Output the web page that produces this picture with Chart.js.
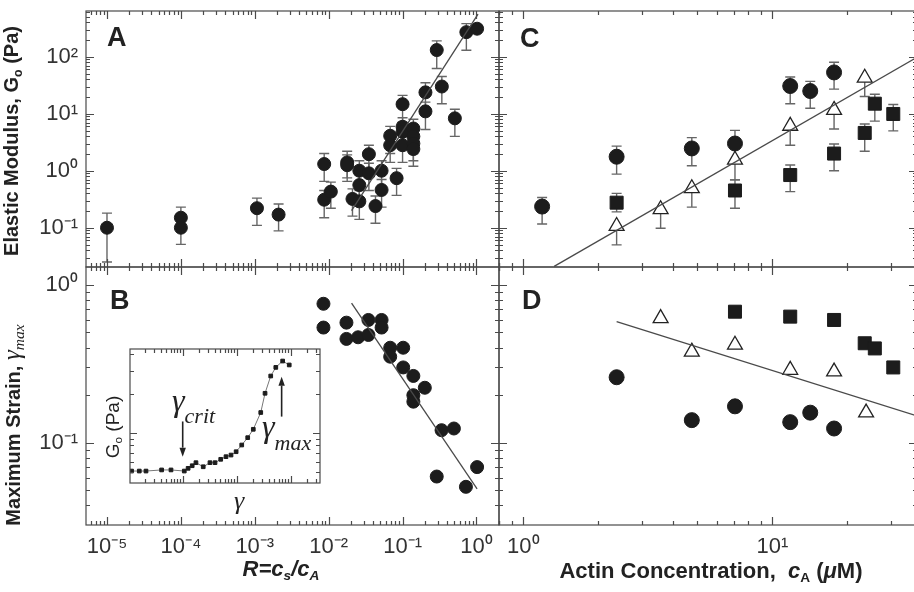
<!DOCTYPE html>
<html><head><meta charset="utf-8">
<script src="https://cdn.jsdelivr.net/npm/chart.js@4/dist/chart.umd.min.js"></script>
<style>
html,body{margin:0;padding:0;background:#fff;overflow:hidden;width:914px;height:592px;}
canvas{position:absolute;left:0;top:0;}
.t{position:absolute;font-family:'Liberation Sans',Arial,sans-serif;color:#222;white-space:nowrap;line-height:1;}
.b{font-weight:bold;}
.rot{transform:translate(-50%,-50%) rotate(-90deg);}
.s{font-family:'Liberation Serif','Times New Roman',serif;font-style:italic;font-weight:normal;}
sub{font-size:0.62em;vertical-align:-0.3em;line-height:0;}
</style>
</head><body>
<canvas id="cA" width="930" height="592"></canvas>
<canvas id="cB" width="930" height="592"></canvas>
<canvas id="cC" width="930" height="592"></canvas>
<canvas id="cD" width="930" height="592"></canvas>
<canvas id="cI" width="930" height="592"></canvas>

<div class="t b rot" style="left:11px;top:141px;font-size:20px;">Elastic Modulus, G<sub>o</sub> (Pa)</div>
<div class="t b rot" style="left:11px;top:425px;font-size:20px;">Maximum Strain, <span class="s" style="font-size:25px;">γ<sub>max</sub></span></div>
<div class="t b" style="left:281px;top:558px;font-size:22px;font-style:italic;transform:translateX(-50%);">R=c<sub>s</sub>/c<sub>A</sub></div>
<div class="t b" style="left:711px;top:560px;font-size:22px;transform:translateX(-50%);">Actin Concentration,&nbsp; <i>c</i><sub>A</sub> (<i>μ</i>M)</div>
<div class="t b" style="left:107px;top:24px;font-size:27px;">A</div>
<div class="t b" style="left:110px;top:287px;font-size:27px;">B</div>
<div class="t b" style="left:520px;top:25px;font-size:27px;">C</div>
<div class="t b" style="left:522px;top:287px;font-size:27px;">D</div>
<div class="t rot" style="left:112px;top:427px;font-size:19px;">G<sub>o</sub> (Pa)</div>
<div class="t s" style="left:234px;top:488px;font-size:26px;">γ</div>
<div class="t s" style="left:172px;top:384px;font-size:32px;">γ<span style="font-size:22px;position:relative;top:12px;">crit</span></div>
<div class="t s" style="left:262px;top:410px;font-size:32px;">γ<span style="font-size:22px;position:relative;top:13px;">max</span></div>

<script>
// ---------- Panel A : elastic modulus vs R ----------
const rA   = [1.0e-5,1.0e-4,1.0e-4,1.07e-3,2.1e-3,8.7e-3,8.7e-3,1.07e-2,1.78e-2,1.78e-2,2.1e-2,2.6e-2,2.6e-2,2.6e-2,3.5e-2,3.5e-2,4.3e-2,5.2e-2,5.2e-2,6.8e-2,6.8e-2,8.3e-2,0.10,0.10,0.10,0.10,0.14,0.14,0.14,0.14,0.204,0.204,0.29,0.34,0.51,0.73,1.02];
const gA   = [0.10,0.15,0.10,0.22,0.17,0.31,1.31,0.43,1.4,1.25,0.32,1.0,0.56,0.29,1.95,0.9,0.24,1.0,0.46,4.1,2.8,0.74,14.7,5.9,4.8,2.8,5.5,4.0,3.0,2.4,11,23.7,131,30,8.3,270,310];
const gAhi = [0.18,0.23,0.15,0.33,0.26,0.45,2.0,0.63,2.2,1.9,0.48,1.5,0.85,0.45,2.8,1.35,0.36,1.5,0.7,6.0,4.2,1.1,21,8.5,7,4.2,8,6,4.5,3.6,16,35,190,45,12,380,null];
const gAlo = [0.025,0.10,0.051,0.11,0.088,0.15,0.65,0.22,0.65,0.75,0.16,0.55,0.3,0.14,1.0,0.45,0.12,0.5,0.23,2.0,1.4,0.37,7,3,2.4,1.4,2.7,2,1.5,1.2,5.3,12,62,15,4,130,null];
const fitA_R = [0.0204, 1.05];
const fitA_G = [0.2, 560];

// ---------- Panel B : maximum strain vs R ----------
const rB = [8.5e-3,8.5e-3,0.0174,0.0174,0.025,0.0345,0.0345,0.052,0.052,0.068,0.068,0.102,0.102,0.14,0.14,0.14,0.20,0.337,0.495,0.29,0.72,1.02];
const gB = [0.76,0.537,0.577,0.455,0.466,0.60,0.482,0.60,0.537,0.40,0.351,0.40,0.30,0.265,0.20,0.182,0.223,0.12,0.123,0.061,0.0525,0.07];
const fitB_R = [0.0204, 1.02];
const fitB_G = [0.766, 0.051];

// ---------- Inset : G vs strain ----------
const gamI = [1.13e-5,1.57e-5,2.09e-5,4.07e-5,6.07e-5,1.07e-4,1.26e-4,1.5e-4,1.76e-4,2.4e-4,3.2e-4,3.97e-4,5.06e-4,6.34e-4,7.85e-4,9.76e-4,1.24e-3,1.6e-3,2.03e-3,2.79e-3,3.35e-3,4.27e-3,5.3e-3,7.1e-3,9.4e-3];
const GI   = [0.507,0.507,0.507,0.517,0.517,0.507,0.532,0.557,0.588,0.547,0.588,0.588,0.624,0.654,0.673,0.714,0.804,0.916,1.062,1.43,2.01,2.73,3.18,3.56,3.32];
const critArrowX = 1e-4,   critArrowG = [1.22, 0.654];
const maxArrowX  = 6.8e-3, maxArrowG  = [1.33, 2.70];

// ---------- Panel C : modulus vs actin concentration ----------
const cCirc = [1.19,2.37,4.75,7.08,11.8,14.2,17.7];
const gCirc = [0.235,1.76,2.46,3.0,30.6,25,53];
const gCircHi = [0.34,2.7,3.8,5.1,44,37,80];
const gCircLo = [0.116,0.87,1.22,1.55,15,12.5,27];
const cSq = [2.37,7.08,11.8,17.7,23.5,25.8,30.6];
const gSq = [0.275,0.45,0.84,2.0,4.6,15,9.9];
const gSqHi = [0.4,0.69,1.26,2.95,6.6,22,14.5];
const gSqLo = [0.19,0.22,0.43,1.0,2.2,7.4,5.0];
const cTri = [2.37,3.56,4.75,7.08,11.8,17.7,23.5];
const gTri = [0.107,0.21,0.49,1.55,6.1,11.6,42.5];
const gTriLo = [0.05,0.098,0.23,0.69,2.8,5.4,20];
const fitC_c = [1.33, 38.1];
const fitC_G = [0.021, 98];

// ---------- Panel D : strain vs actin concentration ----------
const cTriD = [3.56,4.75,7.08,11.8,17.7,23.8];
const sTriD = [0.615,0.377,0.417,0.289,0.282,0.155];
const cSqD  = [7.08,11.8,17.7,23.5,25.8,30.6];
const sSqD  = [0.677,0.63,0.60,0.427,0.396,0.30];
const cCirD = [2.37,4.75,7.08,11.8,14.2,17.7];
const sCirD = [0.26,0.139,0.17,0.135,0.155,0.123];
const fitD_c = [2.37, 38.1];
const fitD_s = [0.585, 0.148];

// ---------- tick labels ----------
const xTicksR = [1e-5,1e-4,1e-3,1e-2,1e-1,1];
const yTicksA = [0.1,1,10,100];
const yTicksB = [0.1,1];
const xTicksC = [1,10];

// ---------- helpers ----------
const SUP = {'-':'⁻','0':'⁰','1':'¹','2':'²','3':'³','4':'⁴','5':'⁵','6':'⁶','7':'⁷','8':'⁸','9':'⁹'};
const fmt = v => '10' + String(Math.round(Math.log10(v))).split('').map(c=>SUP[c]).join('');
const pts = (xs, ys) => xs.map((x,i)=>({x, y: ys[i]}));
const tickFont = {family:"'Liberation Sans', Arial, sans-serif", size:22};
const INK = '#1c1c1c', LINE = '#4a4a4a';

const framePlugin = {
  id:'frame',
  afterDatasetsDraw(chart, args, o) {
    const {ctx, chartArea:a} = chart; const x = chart.scales.x, y = chart.scales.y;
    ctx.save(); ctx.strokeStyle = '#4a4a4a'; ctx.lineWidth = 1.2;
    ctx.strokeRect(a.left, a.top, a.right-a.left, a.bottom-a.top);
    ctx.beginPath();
    [[x,true],[y,false]].forEach(([sc,h]) => {
      const lo = Math.floor(Math.log10(sc.min)), hi = Math.ceil(Math.log10(sc.max));
      for (let d=lo; d<=hi; d++) for (let m=1; m<=9; m++) {
        const v = m*Math.pow(10,d);
        if (v < sc.min*0.999 || v > sc.max*1.001) continue;
        const p = Math.round(sc.getPixelForValue(v))+0.5, L = m===1 ? o.major : o.minor;
        if (h) { ctx.moveTo(p,a.bottom); ctx.lineTo(p,a.bottom-L); ctx.moveTo(p,a.top); ctx.lineTo(p,a.top+L); }
        else   { ctx.moveTo(a.left,p); ctx.lineTo(a.left+L,p); ctx.moveTo(a.right,p); ctx.lineTo(a.right-L,p); }
      }
    });
    ctx.stroke(); ctx.restore();
  }
};

const errPlugin = {
  id:'errbars',
  beforeDatasetsDraw(chart) {
    const {ctx} = chart; const y = chart.scales.y;
    ctx.save(); ctx.strokeStyle = '#666'; ctx.lineWidth = 1.4;
    chart.data.datasets.forEach((ds,i) => {
      if (!ds.errHi && !ds.errLo) return;
      const meta = chart.getDatasetMeta(i);
      meta.data.forEach((el,j) => {
        const px = el.x, py = el.y, cw = 5;
        ctx.beginPath();
        if (ds.errHi && ds.errHi[j] != null) { const t = y.getPixelForValue(ds.errHi[j]); ctx.moveTo(px,py); ctx.lineTo(px,t); ctx.moveTo(px-cw,t); ctx.lineTo(px+cw,t); }
        if (ds.errLo && ds.errLo[j] != null) { const b = y.getPixelForValue(ds.errLo[j]); ctx.moveTo(px,py); ctx.lineTo(px,b); ctx.moveTo(px-cw,b); ctx.lineTo(px+cw,b); }
        ctx.stroke();
      });
    });
    ctx.restore();
  }
};

const arrowPlugin = {
  id:'arrows',
  afterDatasetsDraw(chart, args, o) {
    if (!o.list) return;
    const {ctx} = chart; const x = chart.scales.x, y = chart.scales.y;
    ctx.save(); ctx.strokeStyle = '#222'; ctx.fillStyle = '#222'; ctx.lineWidth = 1.6;
    o.list.forEach(([xv, g0, g1]) => {
      const px = x.getPixelForValue(xv), p0 = y.getPixelForValue(g0), p1 = y.getPixelForValue(g1);
      const dir = Math.sign(p1-p0), hl = 9, hw = 3.2;
      ctx.beginPath(); ctx.moveTo(px,p0); ctx.lineTo(px,p1-dir*hl); ctx.stroke();
      ctx.beginPath(); ctx.moveTo(px,p1); ctx.lineTo(px-hw,p1-dir*hl); ctx.lineTo(px+hw,p1-dir*hl); ctx.closePath(); ctx.fill();
    });
    ctx.restore();
  }
};

function axis(min, max, opts) {
  const o = {type:'logarithmic', min, max, display:false, grid:{display:false, drawTicks:false}, border:{display:false}};
  if (opts) {
    o.display = true;
    o.position = opts.position;
    o.ticks = {font:tickFont, color:'#333', padding:opts.padding, autoSkip:false, maxRotation:0, minRotation:0, callback: v => fmt(v)};
    o.afterBuildTicks = s => { s.ticks = opts.ticks.map(v=>({value:v})); };
    o.afterFit = s => {
      if (opts.position==='left') s.width = opts.size; else s.height = opts.size;
      s.paddingTop = 0; s.paddingBottom = 0; s.paddingLeft = 0; s.paddingRight = 0;
    };
  }
  return o;
}

function makeChart(id, datasets, scales, padding, extra) {
  return new Chart(document.getElementById(id), {
    type:'scatter',
    data:{datasets},
    options:{
      responsive:false, animation:false, events:[],
      layout:{padding},
      scales,
      plugins:Object.assign({legend:{display:false}, tooltip:{enabled:false}, frame:{major:8, minor:4}}, extra||{})
    },
    plugins:[errPlugin, framePlugin, arrowPlugin]
  });
}

const fitDs = (xs, ys) => ({data:pts(xs,ys), showLine:true, borderColor:LINE, borderWidth:1.3, pointRadius:0, fill:false});
const circ = (d, r, extra) => Object.assign({data:d, pointStyle:'circle', pointRadius:r, backgroundColor:INK, borderColor:INK, borderWidth:1}, extra||{});
const sq   = (d, r, extra) => Object.assign({data:d, pointStyle:'rect', pointRadius:r, backgroundColor:INK, borderColor:INK, borderWidth:1}, extra||{});
const tri  = (d, r, extra) => Object.assign({data:d, pointStyle:'triangle', pointRadius:r, backgroundColor:'#fff', borderColor:'#222', borderWidth:1.3}, extra||{});

// ranges
const xR = [Math.pow(10,-5.284), Math.pow(10,0.305)];
const yAr = [Math.pow(10,-1.689), Math.pow(10,2.802)];
const yBr = [Math.pow(10,-1.522), Math.pow(10,0.114)];
const xCr = [Math.pow(10,-0.0976), Math.pow(10,1.581)];

// A
makeChart('cA', [
  fitDs(fitA_R, fitA_G),
  circ(pts(rA,gA), 6.5, {errHi:gAhi, errLo:gAlo})
], {
  x: axis(xR[0], xR[1]),
  y: axis(yAr[0], yAr[1], {position:'left', ticks:yTicksA, padding:8, size:86})
}, {left:0, top:11, right:930-499, bottom:592-267});

// B
makeChart('cB', [
  fitDs(fitB_R, fitB_G),
  circ(pts(rB,gB), 6.5)
], {
  x: axis(xR[0], xR[1], {position:'bottom', ticks:xTicksR, padding:9, size:592-525}),
  y: axis(yBr[0], yBr[1], {position:'left', ticks:yTicksB, padding:8, size:86})
}, {left:0, top:267, right:930-499, bottom:0});

// C
makeChart('cC', [
  fitDs(fitC_c, fitC_G),
  circ(pts(cCirc,gCirc), 7.5, {errHi:gCircHi, errLo:gCircLo}),
  sq(pts(cSq,gSq), 9.2, {errHi:gSqHi, errLo:gSqLo}),
  tri(pts(cTri,gTri), 8.6, {errLo:gTriLo})
], {
  x: axis(xCr[0], xCr[1]),
  y: axis(yAr[0], yAr[1])
}, {left:499, top:11, right:930-917, bottom:592-267});

// D
makeChart('cD', [
  fitDs(fitD_c, fitD_s),
  circ(pts(cCirD,sCirD), 7.5),
  sq(pts(cSqD,sSqD), 9.2),
  tri(pts(cTriD,sTriD), 8.6)
], {
  x: axis(xCr[0], xCr[1], {position:'bottom', ticks:xTicksC, padding:9, size:592-525}),
  y: axis(yBr[0], yBr[1])
}, {left:499, top:267, right:930-917, bottom:0});

// Inset
makeChart('cI', [
  {data:pts(gamI,GI), showLine:true, borderColor:'#777', borderWidth:1, pointStyle:'rect', pointRadius:2.6, pointBorderColor:INK, pointBackgroundColor:INK, tension:0}
], {
  x: axis(Math.pow(10,-4.976), Math.pow(10,-1.457)),
  y: axis(Math.pow(10,-0.387), Math.pow(10,0.644))
}, {left:130, top:349, right:930-320, bottom:592-483},
{frame:{major:7, minor:4}, arrows:{list:[[critArrowX, critArrowG[0], critArrowG[1]], [maxArrowX, maxArrowG[0], maxArrowG[1]]]}});
</script>
</body></html>
